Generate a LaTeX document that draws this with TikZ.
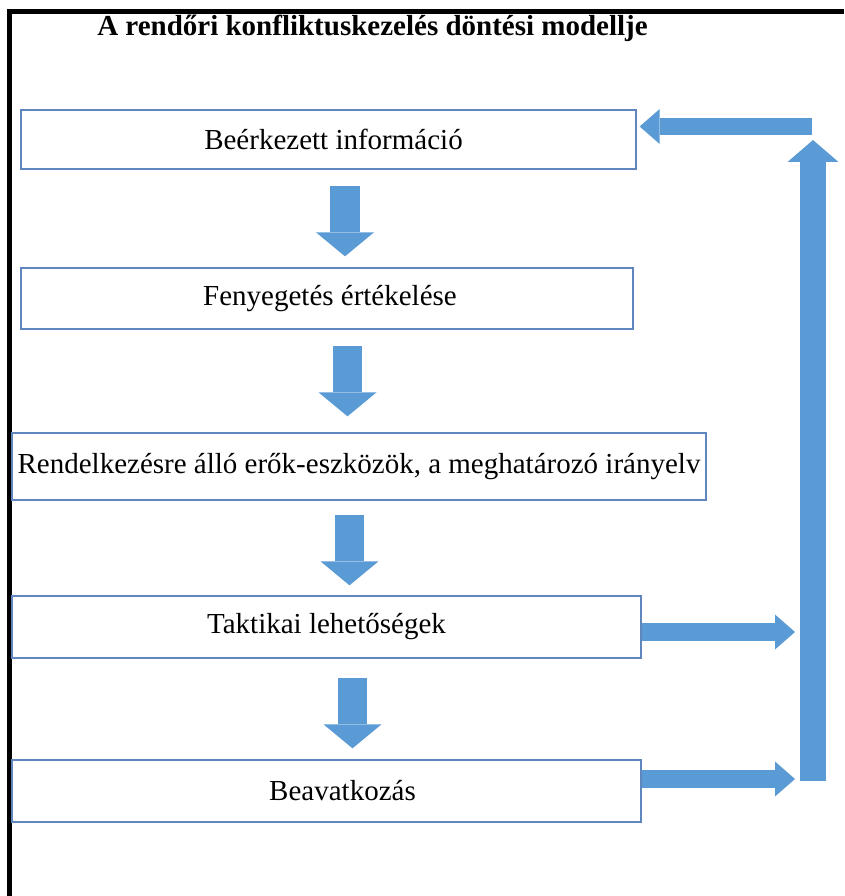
\documentclass[tikz,border=0pt]{standalone}
\usepackage{fontspec}
\setmainfont{Liberation Serif}
\usetikzlibrary{arrows.meta,calc}

\definecolor{arrowblue}{RGB}{91,155,213}
\definecolor{boxblue}{RGB}{95,135,190}

\tikzset{
  flowbox/.style={draw=boxblue, line width=1.3pt, rectangle, inner sep=0pt,
    font=\fontsize{29}{34}\selectfont},
  downarrow/.style={draw=arrowblue, line width=29.5pt,
    -{Triangle[length=24pt,width=58pt,line width=0pt]}},
  sidearrow/.style={draw=arrowblue, line width=17.5pt,
    -{Triangle[length=20pt,width=35pt,line width=0pt]}},
  looparrow/.style={draw=arrowblue, line width=26pt,
    -{Triangle[length=22pt,width=51pt,line width=0pt]}},
}

\begin{document}
\begin{tikzpicture}[x=1pt,y=-1pt]
            \useasboundingbox (0,0) rectangle (844,896);

            % Frame and title
            \draw[line width=4.5pt] (9.5,896) -- (9.5,11.5) -- (844,11.5);
            \node[font=\bfseries\fontsize{29}{34}\selectfont] (title) at (372.5,28) {A rendőri konfliktuskezelés döntési modellje};

            % Decision steps
            \node[flowbox, minimum width=615pt, minimum height=59pt] (b1) at (328.5,139.5) {\hspace*{10pt}Beérkezett információ};
            \node[flowbox, minimum width=612pt, minimum height=61pt] (b2) at (327,298.5) {\hspace*{6pt}Fenyegetés értékelése};
            \node[flowbox, minimum width=694pt, minimum height=67pt] (b3) at (359,466.5) {Rendelkezésre álló erők-eszközök, a meghatározó irányelv};
            \node[flowbox, minimum width=629pt, minimum height=62pt] (b4) at (326.5,627) {Taktikai lehetőségek};
            \node[flowbox, minimum width=629pt, minimum height=62pt] (b5) at (326.5,791) {\hspace*{32pt}Beavatkozás};

            % Feedback loop
            \coordinate (fbbot) at (813,781);
            \coordinate (fbtop) at (813,140);
            \coordinate (fbturn) at (812,126.5);

            % Draw arrows between steps
            \draw[downarrow] ($(b1.south)+(16.5,16)$) -- ($(b1.south |- b2.north)+(16.5,-11)$);
            \draw[downarrow] ($(b2.south)+(20.5,16)$) -- ($(b2.south |- b3.north)+(20.5,-16)$);
            \draw[downarrow] ($(b3.south)+(-9.5,14)$) -- ($(b3.south |- b4.north)+(-9.5,-10)$);
            \draw[downarrow] ($(b4.south)+(26,19)$) -- ($(b4.south |- b5.north)+(26,-11)$);

            % Draw feedback arrows
            \draw[sidearrow] ($(b4.east)+(0,5)$) -- ($(b4.east -| fbbot)+(-18,5)$);
            \draw[sidearrow] ($(b5.east)+(0,-12)$) -- ($(b5.east -| fbbot)+(-18,-12)$);
            \draw[looparrow] (fbbot) -- (fbtop);
            \draw[sidearrow] (fbturn) -- ($(b1.east |- fbturn)+(3,0)$);
\end{tikzpicture}
\end{document}
